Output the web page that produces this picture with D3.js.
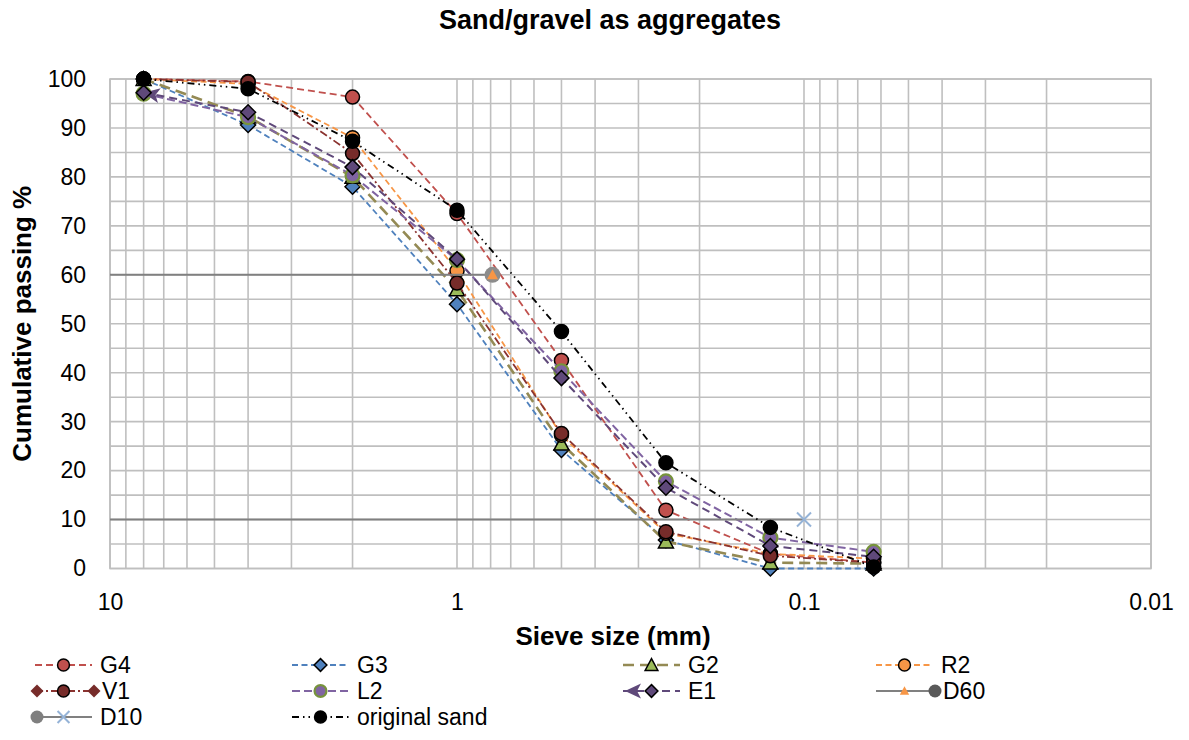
<!DOCTYPE html>
<html>
<head>
<meta charset="utf-8">
<script src="https://cdn.jsdelivr.net/npm/d3@7"></script>
<style>
  html, body { margin: 0; padding: 0; background: #fff; }
  svg { display: block; font-family: "Liberation Sans", Arial, sans-serif; }
</style>
</head>
<body>
<svg id="chart" width="1189" height="740"></svg>
<script>
// Sieve sizes (mm) and cumulative passing (%) for each sample
const sieveSizes   = [8, 4, 2, 1, 0.5, 0.25, 0.125, 0.063];
const g4           = [100, 99.5, 96.3, 72.5, 42.5, 11.9, 3.0, 1.2];
const g3           = [100, 90.6, 78.0, 54.0, 24.2, 5.8, 0.0, 0.0];
const g2           = [100, 92.3, 80.0, 57.0, 25.5, 5.5, 1.2, 1.0];
const r2           = [100, 99.0, 88.0, 60.8, 27.2, 7.2, 3.0, 2.0];
const v1           = [100, 99.4, 84.8, 58.3, 27.6, 7.5, 2.6, 1.2];
const l2           = [97.0, 92.2, 80.3, 63.0, 40.3, 17.8, 6.3, 3.4];
const e1           = [97.2, 93.2, 82.0, 63.2, 38.9, 16.5, 4.6, 2.4];
const originalSand = [100, 98.0, 87.3, 73.2, 48.4, 21.6, 8.4, 0.3];

// Reference lines for D60 and D10
const d60Sizes = [100, 0.79];
const d60Pass  = [60, 60];
const d10Sizes = [100, 0.1];
const d10Pass  = [10, 10];

// Axis ticks
const xTickValues = [10, 1, 0.1, 0.01];
const xTickLabels = ["10", "1", "0.1", "0.01"];
const yTickValues = [0, 10, 20, 30, 40, 50, 60, 70, 80, 90, 100];

const seriesNames = ["G4", "G3", "G2", "R2", "V1", "L2", "E1", "D60", "D10", "original sand"];

const zip = (xs, ys) => xs.map((x, i) => ({ x, y: ys[i] }));

const series = [
  { name: "G4", pts: zip(sieveSizes, g4), stroke: "#C0504D", width: 1.8, dash: "7,4",
    marker: "circle", fill: "#C0504D", mstroke: "#000" },
  { name: "G3", pts: zip(sieveSizes, g3), stroke: "#4F81BD", width: 1.8, dash: "6,3.5",
    marker: "diamond", fill: "#4F81BD", mstroke: "#000" },
  { name: "G2", pts: zip(sieveSizes, g2), stroke: "#948A54", width: 2.6, dash: "11,6",
    marker: "triangle", fill: "#9BBB59", mstroke: "#000" },
  { name: "R2", pts: zip(sieveSizes, r2), stroke: "#F79646", width: 1.8, dash: "6,3.5",
    marker: "circle", fill: "#F79646", mstroke: "#000" },
  { name: "V1", pts: zip(sieveSizes, v1), stroke: "#8B3330", width: 1.8, dash: "8,3,2,3",
    marker: "circle", fill: "#772C2A", mstroke: "#000", endDiamonds: true },
  { name: "L2", pts: zip(sieveSizes, l2), stroke: "#8064A2", width: 2, dash: "8,4",
    marker: "circle", fill: "#8064A2", mstroke: "#77933C", mwidth: 2.2 },
  { name: "E1", pts: zip(sieveSizes, e1), stroke: "#5F497A", width: 2, dash: "8,5",
    marker: "diamond", fill: "#5F497A", mstroke: "#000", startArrow: true },
  { name: "D60", pts: zip(d60Sizes, d60Pass), stroke: "#808080", width: 2, dash: null,
    marker: "smalltri", fill: "#F79646", mstroke: "none", endCircle: true },
  { name: "D10", pts: zip(d10Sizes, d10Pass), stroke: "#808080", width: 2, dash: null,
    marker: "cross", fill: "none", mstroke: "#95B3D7", startCircle: true },
  { name: "original sand", pts: zip(sieveSizes, originalSand), stroke: "#000", width: 1.8,
    dash: "7,4,1.5,4,1.5,4", marker: "circle", fill: "#000", mstroke: "#000" }
];

const svg = d3.select("#chart");
const plot = { left: 110, right: 1151, top: 79, bottom: 568.5 };

const x = d3.scaleLog().domain([10, 0.01]).range([plot.left, plot.right]);
const y = d3.scaleLinear().domain([0, 100]).range([plot.bottom, plot.top]);

// Title
svg.append("text")
  .attr("x", 610).attr("y", 29)
  .attr("text-anchor", "middle")
  .attr("font-size", 27).attr("font-weight", "bold")
  .text("Sand/gravel as aggregates");

// Grid: minor log lines and 5% horizontal lines
const grid = svg.append("g").attr("stroke", "#BFBFBF").attr("stroke-width", 1.6);
const vLines = [];
for (let e = -2; e <= 0; e++) {
  for (let k = 1; k <= 9; k++) vLines.push(k * Math.pow(10, e));
}
vLines.push(10);
grid.selectAll("line.v").data(vLines).join("line")
  .attr("x1", d => x(d)).attr("x2", d => x(d))
  .attr("y1", plot.top).attr("y2", plot.bottom);
grid.selectAll("line.h").data(d3.range(0, 101, 5)).join("line")
  .attr("x1", plot.left).attr("x2", plot.right)
  .attr("y1", d => y(d)).attr("y2", d => y(d));
svg.append("rect")
  .attr("x", plot.left).attr("y", plot.top)
  .attr("width", plot.right - plot.left).attr("height", plot.bottom - plot.top)
  .attr("fill", "none").attr("stroke", "#BFBFBF").attr("stroke-width", 1.6);

// Axes
const xAxis = d3.axisBottom(x).tickValues(xTickValues)
  .tickFormat((d, i) => xTickLabels[i]).tickSize(0).tickPadding(25);
svg.append("g").attr("transform", `translate(0,${plot.bottom})`).call(xAxis)
  .call(g => g.select(".domain").remove())
  .selectAll("text").attr("font-size", 23).attr("fill", "#000")
  .attr("font-family", "Liberation Sans, Arial, sans-serif");

const yAxis = d3.axisLeft(y).tickValues(yTickValues).tickSize(0).tickPadding(24);
svg.append("g").attr("transform", `translate(${plot.left},0)`).call(yAxis)
  .call(g => g.select(".domain").remove())
  .selectAll("text").attr("font-size", 23).attr("fill", "#000")
  .attr("font-family", "Liberation Sans, Arial, sans-serif");

svg.append("text")
  .attr("x", 613).attr("y", 645)
  .attr("text-anchor", "middle")
  .attr("font-size", 26).attr("font-weight", "bold")
  .text("Sieve size (mm)");

svg.append("text")
  .attr("transform", `translate(31,${(plot.top + plot.bottom) / 2}) rotate(-90)`)
  .attr("text-anchor", "middle")
  .attr("font-size", 26).attr("font-weight", "bold")
  .text("Cumulative passing %");

// Marker drawing
function drawMarker(g, s, cx, cy, scale = 1) {
  const sw = (s.mwidth || 1.5);
  if (s.marker === "circle") {
    g.append("circle").attr("cx", cx).attr("cy", cy).attr("r", 7 * scale)
      .attr("fill", s.fill).attr("stroke", s.mstroke).attr("stroke-width", sw);
  } else if (s.marker === "diamond") {
    const r = 7.5 * scale;
    g.append("path")
      .attr("d", `M${cx},${cy - r}L${cx + r},${cy}L${cx},${cy + r}L${cx - r},${cy}Z`)
      .attr("fill", s.fill).attr("stroke", s.mstroke).attr("stroke-width", sw);
  } else if (s.marker === "triangle") {
    const r = 7.5 * scale;
    g.append("path")
      .attr("d", `M${cx},${cy - r}L${cx + r},${cy + r * 0.85}L${cx - r},${cy + r * 0.85}Z`)
      .attr("fill", s.fill).attr("stroke", s.mstroke).attr("stroke-width", sw);
  } else if (s.marker === "smalltri") {
    const r = 5.5 * scale;
    g.append("path")
      .attr("d", `M${cx},${cy - r}L${cx + r},${cy + r * 0.8}L${cx - r},${cy + r * 0.8}Z`)
      .attr("fill", s.fill);
  } else if (s.marker === "cross") {
    const r = 7 * scale;
    g.append("path")
      .attr("d", `M${cx - r},${cy - r}L${cx + r},${cy + r}M${cx - r},${cy + r}L${cx + r},${cy - r}`)
      .attr("stroke", s.mstroke).attr("stroke-width", 2).attr("fill", "none");
  }
}

function drawEndDiamond(g, cx, cy, color, r = 7) {
  g.append("path")
    .attr("d", `M${cx},${cy - r}L${cx + r},${cy}L${cx},${cy + r}L${cx - r},${cy}Z`)
    .attr("fill", color);
}
function drawEndCircle(g, cx, cy, color, r = 8) {
  g.append("circle").attr("cx", cx).attr("cy", cy).attr("r", r).attr("fill", color);
}
function drawArrow(g, tipX, tipY, fromX, fromY, color) {
  const ang = Math.atan2(tipY - fromY, tipX - fromX);
  const len = 16, half = 7.5;
  const bx = tipX - len * Math.cos(ang), by = tipY - len * Math.sin(ang);
  const px = -Math.sin(ang) * half, py = Math.cos(ang) * half;
  g.append("path")
    .attr("d", `M${tipX},${tipY}L${bx + px},${by + py}L${bx + 4 * Math.cos(ang)},${by + 4 * Math.sin(ang)}L${bx - px},${by - py}Z`)
    .attr("fill", color);
}

svg.append("clipPath").attr("id", "plotClip").append("rect")
  .attr("x", plot.left).attr("y", plot.top - 12)
  .attr("width", plot.right - plot.left).attr("height", plot.bottom - plot.top + 24);

const line = d3.line().x(d => x(d.x)).y(d => y(d.y));
const layer = svg.append("g").attr("clip-path", "url(#plotClip)");

series.forEach(s => {
  const g = layer.append("g").attr("class", "series");
  g.append("path").datum(s.pts)
    .attr("d", line).attr("fill", "none")
    .attr("stroke", s.stroke).attr("stroke-width", s.width)
    .attr("stroke-dasharray", s.dash);
  const first = s.pts[0], last = s.pts[s.pts.length - 1];
  if (s.endDiamonds) {
    drawEndDiamond(g, x(first.x), y(first.y), s.fill);
    drawEndDiamond(g, x(last.x), y(last.y), s.fill);
  }
  if (s.startArrow) {
    drawArrow(g, x(first.x), y(first.y), x(s.pts[1].x), y(s.pts[1].y), s.stroke);
  }
  if (s.endCircle) drawEndCircle(g, x(last.x), y(last.y), "#8C8C8C");
  if (s.startCircle) drawEndCircle(g, x(first.x), y(first.y), "#8C8C8C");
  s.pts.forEach(p => drawMarker(g, s, x(p.x), y(p.y)));
});

// Legend: four columns, three rows
const legendCols = [35, 292, 623, 876];
const legendRows = [665, 691, 717];
const lineLen = 57;
const legend = svg.append("g");
series.forEach((s, i) => {
  const x0 = legendCols[i % 4], y0 = legendRows[Math.floor(i / 4)];
  const g = legend.append("g");
  g.append("line").attr("x1", x0).attr("x2", x0 + lineLen)
    .attr("y1", y0).attr("y2", y0)
    .attr("stroke", s.stroke).attr("stroke-width", s.width)
    .attr("stroke-dasharray", s.dash);
  if (s.endDiamonds) {
    drawEndDiamond(g, x0 + 2, y0, s.fill, 6.5);
    drawEndDiamond(g, x0 + lineLen + 2, y0, s.fill, 6.5);
  }
  if (s.startArrow) drawArrow(g, x0 + 2, y0, x0 + lineLen, y0, s.stroke);
  if (s.endCircle) drawEndCircle(g, x0 + lineLen + 2, y0, "#595959", 6.5);
  if (s.startCircle) drawEndCircle(g, x0 + 2, y0, "#7F7F7F", 6.5);
  drawMarker(g, s, x0 + lineLen / 2, y0, 0.85);
  g.append("text").attr("x", x0 + lineLen + (s.endDiamonds || s.endCircle ? 10 : 8)).attr("y", y0)
    .attr("dy", "0.36em").attr("font-size", 23).text(seriesNames[i]);
});
</script>
</body>
</html>
